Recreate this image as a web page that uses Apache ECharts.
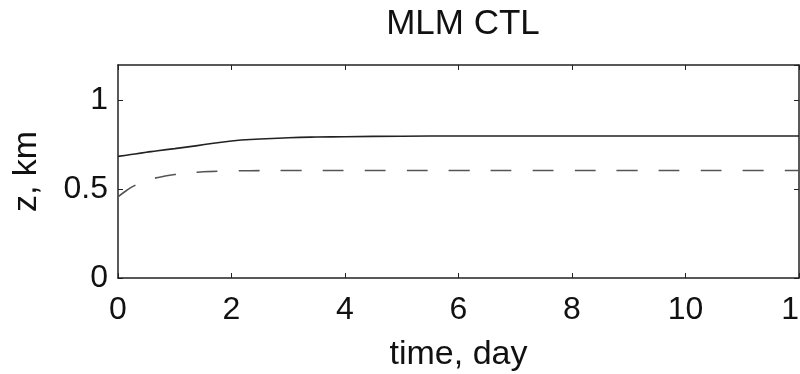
<!DOCTYPE html>
<html><head><meta charset="utf-8">
<script src="https://cdn.jsdelivr.net/npm/echarts@6/dist/echarts.min.js"></script>
<style>html,body{margin:0;padding:0;background:#fff}#c{width:800px;height:374px}</style>
</head><body><div id="c"></div>
<script>
const title = 'MLM CTL';
const xName = 'time, day';
const yName = 'z, km';
const time = [0, 0.15, 0.3, 0.5, 0.7, 1.0, 1.4, 2.0, 2.5, 3.0, 3.5, 4.0, 5.0, 6.0, 7.0, 8.0, 9.0, 10.0, 11.0, 12.0];
const solidZ = [0.685, 0.692, 0.699, 0.708, 0.717, 0.729, 0.746, 0.772, 0.783, 0.790, 0.794, 0.796, 0.799, 0.800, 0.800, 0.800, 0.800, 0.800, 0.800, 0.800];
const dashedZ = [0.457, 0.493, 0.522, 0.548, 0.566, 0.583, 0.596, 0.603, 0.605, 0.606, 0.606, 0.606, 0.606, 0.606, 0.606, 0.606, 0.606, 0.606, 0.606, 0.606];
const xTicks = [0, 2, 4, 6, 8, 10, 12];
const yTicks = [0, 0.5, 1];

const font = 'Liberation Sans, Arial, Helvetica, sans-serif';
const chart = echarts.init(document.getElementById('c'), null, {renderer: 'canvas'});
const axisCommon = () => ({
  axisLine: {show: true, onZero: false, lineStyle: {color: '#222', width: 1.5}},
  axisTick: {show: true, inside: true, length: 5, lineStyle: {color: '#222', width: 1}},
  splitLine: {show: false}
});
chart.setOption({
  animation: false,
  backgroundColor: '#fff',
  title: {text: title, left: 458, top: 2, textAlign: 'center',
    textStyle: {fontFamily: font, fontSize: 35, fontWeight: 'normal', color: '#111'}},
  grid: {left: 118, right: 1, top: 65, bottom: 96, containLabel: false, outerBoundsMode: 'none'},
  xAxis: [
    Object.assign({type: 'value', min: 0, max: 12, interval: 2, position: 'bottom',
      name: xName, nameLocation: 'middle', nameGap: 60,
      nameTextStyle: {fontFamily: font, fontSize: 34, color: '#111'},
      axisLabel: {fontFamily: font, fontSize: 32, color: '#111', margin: 16,
        formatter: v => xTicks.includes(v) ? String(v) : ''}}, axisCommon()),
    Object.assign({type: 'value', min: 0, max: 12, interval: 2, position: 'top',
      axisLabel: {show: false}}, axisCommon())
  ],
  yAxis: [
    Object.assign({type: 'value', min: 0, max: 1.2, interval: 0.5, position: 'left',
      name: yName, nameLocation: 'middle', nameGap: 74, nameRotate: 90,
      nameTextStyle: {fontFamily: font, fontSize: 34, color: '#111'},
      axisLabel: {fontFamily: font, fontSize: 32, color: '#111', margin: 10,
        showMaxLabel: false,
        formatter: v => yTicks.includes(v) ? String(v) : ''}}, axisCommon()),
    Object.assign({type: 'value', min: 0, max: 1.2, interval: 0.5, position: 'right',
      axisLabel: {show: false}}, axisCommon())
  ],
  series: [
    {type: 'line', data: time.map((t, i) => [t, solidZ[i]]), smooth: true, symbol: 'none',
      lineStyle: {color: '#222', width: 1.6}},
    {type: 'line', data: time.map((t, i) => [t, dashedZ[i]]), smooth: true, symbol: 'none',
      lineStyle: {color: '#555', width: 1.6, type: [21, 21], dashOffset: 0}}
  ]
});
</script></body></html>
